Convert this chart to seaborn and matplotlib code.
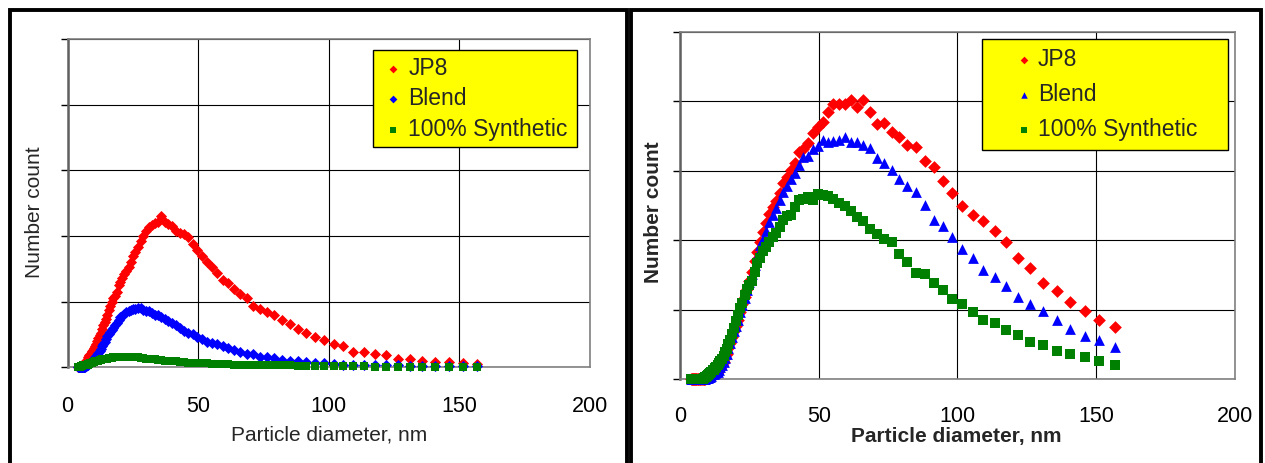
import pandas as pd
import seaborn as sns
import matplotlib.pyplot as plt
from matplotlib.patches import Rectangle

# particle diameter bins (nm)
diameter = [4.14, 4.29, 4.45, 4.61, 4.78, 4.96, 5.14, 5.33, 5.52, 5.73,
            5.94, 6.15, 6.38, 6.61, 6.85, 7.10, 7.37, 7.64, 7.91, 8.20,
            8.51, 8.82, 9.14, 9.47, 9.82, 10.2, 10.6, 10.9, 11.3, 11.8,
            12.2, 12.6, 13.1, 13.6, 14.1, 14.6, 15.1, 15.7, 16.3, 16.8,
            17.5, 18.1, 18.8, 19.5, 20.2, 20.9, 21.7, 22.5, 23.3, 24.1,
            25.0, 25.9, 26.9, 27.9, 28.9, 30.0, 31.1, 32.2, 33.4, 34.6,
            35.9, 37.2, 38.5, 40.0, 41.4, 42.9, 44.5, 46.1, 47.8, 49.6,
            51.4, 53.3, 55.2, 57.3, 59.4, 61.5, 63.8, 66.1, 68.5, 71.0,
            73.7, 76.4, 79.1, 82.0, 85.1, 88.2, 91.4, 94.7, 98.2, 101.8,
            105.5, 109.4, 113.4, 117.6, 121.9, 126.3, 131.0, 135.8, 140.7, 145.9,
            151.2, 156.8]

# left chart (number count, gridline units)
left_jp8 = [0.00, 0.00, 0.00, 0.01, 0.01, 0.01, 0.02, 0.02, 0.03, 0.03,
            0.04, 0.05, 0.06, 0.07, 0.08, 0.10, 0.11, 0.13, 0.15, 0.18,
            0.19, 0.21, 0.23, 0.25, 0.27, 0.30, 0.33, 0.36, 0.40, 0.45,
            0.49, 0.53, 0.58, 0.64, 0.69, 0.74, 0.80, 0.87, 0.93, 0.99,
            1.05, 1.09, 1.14, 1.25, 1.30, 1.36, 1.42, 1.47, 1.53, 1.61,
            1.70, 1.76, 1.83, 1.92, 2.00, 2.07, 2.13, 2.16, 2.20, 2.21,
            2.30, 2.22, 2.19, 2.15, 2.08, 2.04, 2.03, 1.99, 1.88, 1.79,
            1.70, 1.61, 1.53, 1.43, 1.33, 1.29, 1.20, 1.12, 1.05, 0.93,
            0.89, 0.84, 0.80, 0.72, 0.66, 0.58, 0.52, 0.46, 0.41, 0.36,
            0.32, 0.24, 0.23, 0.21, 0.19, 0.13, 0.12, 0.10, 0.08, 0.08,
            0.07, 0.05]
left_blend = [0.00, 0.00, 0.00, 0.00, 0.00, 0.00, 0.00, 0.00, 0.00, 0.00,
              0.00, 0.00, 0.01, 0.01, 0.02, 0.02, 0.03, 0.04, 0.05, 0.06,
              0.07, 0.08, 0.09, 0.10, 0.11, 0.13, 0.15, 0.17, 0.19, 0.22,
              0.25, 0.28, 0.32, 0.36, 0.39, 0.43, 0.47, 0.50, 0.54, 0.57,
              0.60, 0.64, 0.67, 0.72, 0.76, 0.78, 0.81, 0.84, 0.85, 0.87,
              0.89, 0.89, 0.90, 0.91, 0.88, 0.85, 0.85, 0.82, 0.80, 0.79,
              0.76, 0.74, 0.70, 0.67, 0.64, 0.60, 0.56, 0.53, 0.50, 0.46,
              0.43, 0.39, 0.37, 0.35, 0.33, 0.30, 0.27, 0.23, 0.21, 0.20,
              0.16, 0.16, 0.14, 0.11, 0.10, 0.09, 0.08, 0.06, 0.06, 0.05,
              0.04, 0.04, 0.04, 0.03, 0.03, 0.03, 0.02, 0.02, 0.02, 0.02,
              0.02, 0.02]
left_syn = [0.01, 0.01, 0.01, 0.01, 0.01, 0.02, 0.02, 0.02, 0.02, 0.03,
            0.03, 0.03, 0.03, 0.03, 0.04, 0.04, 0.04, 0.04, 0.05, 0.05,
            0.06, 0.06, 0.07, 0.07, 0.08, 0.08, 0.09, 0.09, 0.10, 0.10,
            0.11, 0.11, 0.12, 0.12, 0.13, 0.13, 0.13, 0.14, 0.14, 0.14,
            0.15, 0.15, 0.15, 0.16, 0.16, 0.16, 0.16, 0.16, 0.16, 0.16,
            0.15, 0.15, 0.15, 0.14, 0.14, 0.13, 0.13, 0.12, 0.12, 0.11,
            0.11, 0.10, 0.10, 0.09, 0.09, 0.08, 0.08, 0.07, 0.07, 0.06,
            0.06, 0.06, 0.05, 0.05, 0.05, 0.05, 0.04, 0.04, 0.04, 0.04,
            0.03, 0.03, 0.03, 0.03, 0.03, 0.02, 0.02, 0.02, 0.02, 0.02,
            0.02, 0.02, 0.02, 0.01, 0.01, 0.01, 0.01, 0.01, 0.01, 0.01,
            0.01, 0.01]

# right chart
right_jp8 = [0.00, 0.00, 0.00, 0.00, 0.00, 0.00, 0.00, 0.00, 0.00, 0.00,
             0.00, 0.00, 0.00, 0.00, 0.00, 0.00, 0.00, 0.00, 0.01, 0.01,
             0.01, 0.01, 0.01, 0.02, 0.02, 0.03, 0.03, 0.04, 0.05, 0.06,
             0.07, 0.08, 0.10, 0.11, 0.13, 0.16, 0.20, 0.25, 0.31, 0.37,
             0.45, 0.52, 0.61, 0.69, 0.77, 0.86, 0.97, 1.08, 1.18, 1.30,
             1.42, 1.55, 1.70, 1.84, 1.98, 2.12, 2.25, 2.38, 2.48, 2.56,
             2.68, 2.82, 2.91, 3.01, 3.12, 3.27, 3.32, 3.40, 3.55, 3.63,
             3.70, 3.85, 3.96, 3.96, 3.96, 4.02, 3.92, 4.02, 3.85, 3.67,
             3.69, 3.56, 3.49, 3.38, 3.34, 3.15, 3.05, 2.85, 2.68, 2.49,
             2.36, 2.28, 2.14, 1.97, 1.74, 1.60, 1.38, 1.27, 1.11, 0.99,
             0.86, 0.75]
right_blend = [0.00, 0.00, 0.00, 0.00, 0.00, 0.00, 0.00, 0.00, 0.00, 0.00,
               0.00, 0.00, 0.00, 0.00, 0.00, 0.00, 0.00, 0.00, 0.01, 0.01,
               0.01, 0.01, 0.01, 0.02, 0.02, 0.02, 0.03, 0.04, 0.05, 0.07,
               0.08, 0.09, 0.10, 0.11, 0.13, 0.17, 0.20, 0.25, 0.31, 0.37,
               0.45, 0.52, 0.61, 0.69, 0.77, 0.85, 0.97, 1.07, 1.17, 1.28,
               1.40, 1.52, 1.64, 1.77, 1.93, 2.02, 2.13, 2.26, 2.37, 2.47,
               2.58, 2.70, 2.79, 2.89, 2.97, 3.08, 3.20, 3.21, 3.32, 3.36,
               3.44, 3.41, 3.43, 3.44, 3.49, 3.42, 3.42, 3.37, 3.33, 3.18,
               3.11, 3.01, 2.89, 2.79, 2.70, 2.51, 2.29, 2.20, 2.05, 1.88,
               1.75, 1.57, 1.47, 1.34, 1.19, 1.08, 0.99, 0.86, 0.73, 0.62,
               0.57, 0.46]
right_syn = [0.00, 0.00, 0.00, 0.00, 0.00, 0.00, 0.00, 0.00, 0.00, 0.00,
             0.00, 0.00, 0.00, 0.00, 0.01, 0.01, 0.01, 0.01, 0.01, 0.01,
             0.02, 0.02, 0.03, 0.04, 0.05, 0.06, 0.08, 0.09, 0.11, 0.13,
             0.14, 0.16, 0.18, 0.20, 0.23, 0.26, 0.29, 0.34, 0.39, 0.44,
             0.51, 0.57, 0.65, 0.74, 0.84, 0.93, 1.03, 1.10, 1.21, 1.30,
             1.36, 1.42, 1.55, 1.67, 1.75, 1.85, 1.91, 1.98, 2.05, 2.11,
             2.19, 2.30, 2.35, 2.37, 2.48, 2.58, 2.60, 2.63, 2.58, 2.67,
             2.66, 2.64, 2.60, 2.54, 2.50, 2.43, 2.34, 2.28, 2.17, 2.09,
             2.02, 1.97, 1.80, 1.69, 1.53, 1.51, 1.39, 1.28, 1.15, 1.08,
             0.97, 0.85, 0.81, 0.71, 0.64, 0.53, 0.49, 0.41, 0.37, 0.32,
             0.26, 0.21]

fuels = ['JP8', 'Blend', '100% Synthetic']
palette = {'JP8': '#ff0000', 'Blend': '#0000ff', '100% Synthetic': '#008000'}
x_ticks = [0, 50, 100, 150, 200]


def long_table(series):
    frames = [pd.DataFrame({'diameter': diameter, 'count': vals, 'fuel': name})
              for name, vals in zip(fuels, series)]
    return pd.concat(frames, ignore_index=True)


sns.set_theme(style='white')
plt.rcParams['font.family'] = ['Liberation Sans', 'DejaVu Sans']

fig = plt.figure(figsize=(12.65, 4.63), dpi=100)
ax_l = fig.add_axes([0.0535, 0.2067, 0.4129, 0.709])
ax_r = fig.add_axes([0.5375, 0.1808, 0.4387, 0.750])


def draw(ax, df, markers, sizes, weight, legend_box, leg_kw):
    for name in fuels:
        sns.scatterplot(data=df[df['fuel'] == name], x='diameter', y='count',
                        color=palette[name], marker=markers[name], s=sizes[name],
                        linewidth=0, clip_on=False, label=name, ax=ax, zorder=3)
    ax.set_xlim(0, 200)
    ax.set_ylim(0, 5)
    ax.set_xticks(x_ticks)
    ax.set_yticks(range(6))
    ax.set_yticklabels([])
    ax.grid(True, color='black', linewidth=0.8)
    ax.tick_params(axis='x', length=0, labelsize=15.5, colors='black')
    ax.tick_params(axis='y', left=True, length=5, width=1, color='black', direction='out')
    for side in ['top', 'right', 'bottom']:
        ax.spines[side].set_color('#808080')
        ax.spines[side].set_linewidth(1.2)
    ax.spines['left'].set_color('#606060')
    ax.spines['left'].set_linewidth(1.8)
    ax.set_xlabel('Particle diameter, nm', fontsize=15, fontweight=weight)
    ax.set_ylabel('Number count', fontsize=15, fontweight=weight)
    ax.legend(loc='upper left', bbox_to_anchor=legend_box, mode='expand',
              borderaxespad=0, frameon=True, fancybox=False, facecolor='#ffff00',
              edgecolor='black', framealpha=1, fontsize=16.5, **leg_kw)
    ax.get_legend().get_frame().set_linewidth(1.0)


draw(ax_l, long_table([left_jp8, left_blend, left_syn]),
     {'JP8': 'D', 'Blend': 'D', '100% Synthetic': 's'},
     {'JP8': 32, 'Blend': 32, '100% Synthetic': 28}, 'normal',
     (0.5845, 0.671, 0.3904, 0.2955),
     dict(borderpad=0.3, labelspacing=0.32, handlelength=1.15, handletextpad=0.1,
          markerscale=0.7))
ax_l.tick_params(axis='x', pad=21)
ax_l.xaxis.set_label_coords(0.5014, -0.176)
ax_l.yaxis.set_label_coords(-0.045, 0.473)

draw(ax_r, long_table([right_jp8, right_blend, right_syn]),
     {'JP8': 'D', 'Blend': '^', '100% Synthetic': 's'},
     {'JP8': 42, 'Blend': 60, '100% Synthetic': 50}, 'bold',
     (0.544, 0.669, 0.443, 0.311),
     dict(borderpad=0.4, labelspacing=0.52, handlelength=2.9, handletextpad=-0.85,
          markerscale=0.6))
ax_r.tick_params(axis='x', pad=19)
ax_r.xaxis.set_label_coords(0.497, -0.137)
ax_r.yaxis.set_label_coords(-0.031, 0.482)

# black panel frames
fig.add_artist(Rectangle((9.5 / 1265, -0.05), (627 - 9.5) / 1265, 1.05 - 10 / 463,
                         transform=fig.transFigure, fill=False, edgecolor='black', linewidth=2.8))
fig.add_artist(Rectangle((630.5 / 1265, -0.05), (1261 - 630.5) / 1265, 1.05 - 10 / 463,
                         transform=fig.transFigure, fill=False, edgecolor='black', linewidth=2.8))

fig.savefig('out.png', dpi=100)
